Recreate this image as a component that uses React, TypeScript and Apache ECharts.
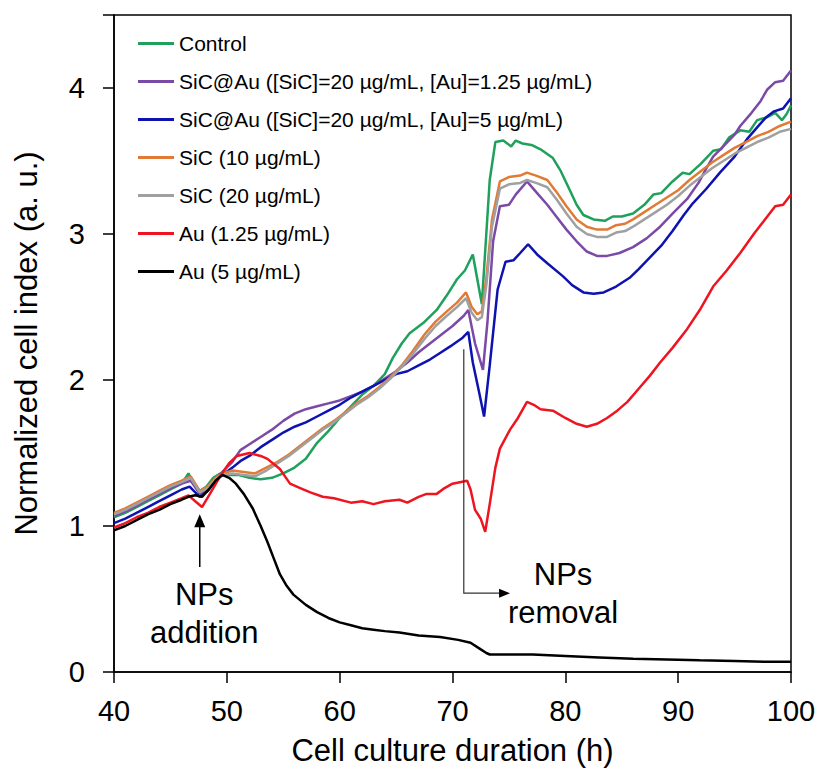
import React, { useEffect, useRef } from "react";
import * as echarts from "echarts";

const legendNames = [
  "Control",
  "SiC@Au ([SiC]=20 µg/mL, [Au]=1.25 µg/mL)",
  "SiC@Au ([SiC]=20 µg/mL, [Au]=5 µg/mL)",
  "SiC (10 µg/mL)",
  "SiC (20 µg/mL)",
  "Au (1.25 µg/mL)",
  "Au (5 µg/mL)",
];
const seriesColors = ["#1FA05C", "#7B4AA6", "#0D12B0", "#E07A35", "#A0A0A0", "#EE1520", "#000000"];

const xTicks = [40, 50, 60, 70, 80, 90, 100];
const yTicks = [0, 1, 2, 3, 4];

const control: number[][] = [
  [40, 1.06], [41, 1.09], [42, 1.13], [43, 1.17], [44, 1.21], [45, 1.25], [46, 1.29], [46.6, 1.36], [47.0, 1.3],
  [47.6, 1.24], [48.2, 1.27], [48.8, 1.33], [49.4, 1.36], [50, 1.35], [51, 1.35], [52, 1.33], [53, 1.32], [54, 1.33],
  [55, 1.36], [56, 1.4], [57, 1.46], [58, 1.57], [59, 1.65], [60, 1.74], [61, 1.82], [62, 1.9], [63, 1.96], [64, 2.04],
  [64.7, 2.15], [65.5, 2.25], [66.2, 2.32], [67.4, 2.39], [68.6, 2.48], [69.5, 2.58], [70.4, 2.69], [71.1, 2.75],
  [71.8, 2.86], [72.6, 2.52], [73.3, 3.37], [73.8, 3.63], [74.5, 3.64], [75.2, 3.6], [75.6, 3.64], [76.2, 3.62],
  [77, 3.61], [77.8, 3.58], [78.9, 3.52], [79.6, 3.43], [80.4, 3.3], [81, 3.2], [81.6, 3.13], [82.5, 3.1], [83.5, 3.09],
  [84.2, 3.12], [85, 3.12], [86, 3.14], [87, 3.2], [87.8, 3.27], [88.5, 3.28], [89.5, 3.36], [90.4, 3.42], [91, 3.41],
  [92, 3.48], [93.1, 3.57], [93.8, 3.58], [94.5, 3.66], [95.5, 3.71], [96.3, 3.7], [97, 3.78], [97.9, 3.8],
  [98.6, 3.83], [99.2, 3.78], [99.6, 3.82], [100, 3.88],
];

const sicAu125: number[][] = [
  [40, 1.07], [41, 1.1], [42, 1.14], [43, 1.18], [44, 1.22], [45, 1.26], [46, 1.29], [46.8, 1.31], [47.6, 1.22],
  [48.3, 1.25], [49, 1.32], [49.6, 1.37], [50.5, 1.44], [51.2, 1.52], [52, 1.56], [53, 1.61], [54, 1.66], [55, 1.72],
  [56, 1.77], [57, 1.8], [58, 1.82], [59, 1.84], [60, 1.86], [61, 1.89], [62, 1.92], [63, 1.96], [64, 2.01], [65, 2.06],
  [66, 2.12], [67, 2.19], [68, 2.25], [69, 2.31], [70, 2.37], [71, 2.44], [71.4, 2.48], [72, 2.25], [72.7, 2.07],
  [73.1, 2.4], [73.6, 2.95], [74.2, 3.19], [75, 3.2], [75.6, 3.27], [76.6, 3.36], [77.5, 3.28], [78.4, 3.2],
  [79.2, 3.12], [80.1, 3.03], [81, 2.95], [81.9, 2.88], [82.8, 2.85], [83.7, 2.85], [84.8, 2.87], [86, 2.91],
  [87.2, 2.97], [88.4, 3.05], [89.5, 3.14], [90.8, 3.24], [91.8, 3.35], [92.5, 3.45], [93.1, 3.53], [94, 3.6],
  [95, 3.68], [95.5, 3.74], [96.5, 3.83], [97.3, 3.91], [97.9, 3.99], [98.6, 4.04], [99.3, 4.05], [100, 4.12],
];

const sicAu5: number[][] = [
  [40, 1.02], [41, 1.05], [42, 1.09], [43, 1.13], [44, 1.17], [45, 1.21], [46, 1.25], [46.7, 1.27], [47.6, 1.2],
  [48.3, 1.24], [49, 1.31], [49.6, 1.35], [50.5, 1.4], [51.3, 1.45], [52, 1.48], [53, 1.54], [54, 1.59], [55, 1.64],
  [56, 1.68], [57, 1.71], [58, 1.75], [59, 1.79], [60, 1.83], [61, 1.88], [62, 1.92], [63, 1.96], [64, 2.0], [65, 2.04],
  [66, 2.06], [67, 2.1], [68, 2.14], [69, 2.19], [69.8, 2.23], [70.9, 2.29], [71.4, 2.33], [71.8, 2.12], [72.4, 1.9],
  [72.8, 1.75], [73.3, 2.1], [74.0, 2.62], [74.7, 2.81], [75.4, 2.82], [76, 2.87], [76.7, 2.93], [77.5, 2.86],
  [78.4, 2.8], [79.8, 2.71], [80.6, 2.65], [81.6, 2.6], [82.5, 2.59], [83.4, 2.6], [84.5, 2.64], [85.7, 2.7],
  [86.5, 2.76], [87.5, 2.84], [88.5, 2.92], [89.5, 3.02], [90.5, 3.13], [91.3, 3.21], [92.5, 3.31], [93.7, 3.42],
  [95, 3.53], [96.1, 3.65], [97, 3.73], [97.8, 3.8], [98.5, 3.84], [99.3, 3.86], [100, 3.93],
];

const sic10: number[][] = [
  [40, 1.09], [41, 1.12], [42, 1.16], [43, 1.2], [44, 1.24], [45, 1.28], [46, 1.31], [46.8, 1.34], [47.6, 1.24],
  [48.3, 1.27], [49, 1.33], [49.6, 1.36], [50.5, 1.38], [51.5, 1.37], [52.5, 1.36], [53.5, 1.4], [54.5, 1.44],
  [55.5, 1.49], [56.5, 1.55], [57.5, 1.61], [58.5, 1.67], [59.5, 1.72], [60.5, 1.78], [61.5, 1.84], [62.5, 1.89],
  [63.5, 1.95], [64.5, 2.02], [65.5, 2.1], [66.5, 2.2], [67.5, 2.31], [68.5, 2.4], [69.5, 2.47], [70.4, 2.53],
  [71.2, 2.6], [71.7, 2.5], [72.2, 2.45], [72.6, 2.47], [73, 2.7], [73.5, 3.1], [74.2, 3.36], [75, 3.39], [76, 3.4],
  [76.6, 3.42], [77.4, 3.4], [78.4, 3.37], [79.2, 3.29], [80.1, 3.19], [81, 3.1], [81.9, 3.05], [82.8, 3.03],
  [83.7, 3.03], [84.5, 3.06], [85.3, 3.07], [86, 3.1], [87, 3.15], [88, 3.2], [89, 3.25], [90, 3.3], [91, 3.37],
  [92, 3.43], [93, 3.49], [94, 3.54], [95, 3.59], [96, 3.63], [97, 3.67], [98, 3.7], [99, 3.74], [100, 3.77],
];

const sic20: number[][] = [
  [40, 1.08], [41, 1.11], [42, 1.15], [43, 1.19], [44, 1.23], [45, 1.27], [46, 1.3], [46.8, 1.33], [47.6, 1.23],
  [48.3, 1.26], [49, 1.32], [49.6, 1.35], [50.5, 1.36], [51.5, 1.35], [52.5, 1.34], [53.5, 1.38], [54.5, 1.43],
  [55.5, 1.48], [56.5, 1.54], [57.5, 1.6], [58.5, 1.66], [59.5, 1.71], [60.5, 1.77], [61.5, 1.83], [62.5, 1.88],
  [63.5, 1.94], [64.5, 2.01], [65.5, 2.09], [66.5, 2.18], [67.5, 2.28], [68.5, 2.37], [69.5, 2.44], [70.4, 2.5],
  [71.2, 2.56], [71.7, 2.46], [72.2, 2.41], [72.6, 2.43], [73, 2.65], [73.5, 3.05], [74.2, 3.31], [75, 3.34],
  [76, 3.35], [76.6, 3.37], [77.4, 3.35], [78.4, 3.32], [79.2, 3.24], [80.1, 3.14], [81, 3.05], [81.9, 3.0],
  [82.8, 2.98], [83.7, 2.98], [84.5, 3.01], [85.3, 3.02], [86, 3.05], [87, 3.1], [88, 3.15], [89, 3.2], [90, 3.26],
  [91, 3.33], [92, 3.39], [93, 3.45], [94, 3.5], [95, 3.55], [96, 3.59], [97, 3.63], [98, 3.66], [99, 3.7], [100, 3.72],
];

const au125: number[][] = [
  [40, 0.99], [41, 1.02], [42, 1.06], [43, 1.09], [44, 1.13], [45, 1.16], [46, 1.19], [46.6, 1.21], [47.2, 1.17],
  [47.8, 1.13], [48.5, 1.22], [49.4, 1.34], [50.2, 1.43], [50.9, 1.48], [52, 1.5], [53, 1.48], [53.6, 1.46],
  [54.7, 1.39], [55.6, 1.29], [56.5, 1.26], [57.4, 1.23], [58.5, 1.2], [59.5, 1.19], [61, 1.16], [62, 1.17],
  [63, 1.15], [64, 1.17], [65.3, 1.18], [66, 1.16], [67, 1.2], [67.7, 1.22], [68.6, 1.22], [69.3, 1.26], [70, 1.29],
  [71.3, 1.31], [71.6, 1.25], [72, 1.11], [72.5, 1.05], [72.9, 0.96], [73.3, 1.15], [73.8, 1.4], [74.2, 1.53],
  [75.1, 1.66], [75.8, 1.74], [76.6, 1.85], [77.2, 1.83], [77.8, 1.8], [78.9, 1.79], [80, 1.74], [81, 1.7],
  [81.9, 1.68], [82.8, 1.7], [83.7, 1.74], [84.6, 1.79], [85.5, 1.85], [86.5, 1.94], [87.5, 2.03], [88.4, 2.12],
  [89.5, 2.22], [90.8, 2.35], [92, 2.49], [93.1, 2.64], [94.3, 2.75], [95.5, 2.87], [96.7, 3.0], [97.9, 3.12],
  [98.6, 3.19], [99.3, 3.2], [100, 3.27],
];

const au5: number[][] = [
  [40, 0.97], [41, 1.0], [42, 1.04], [43, 1.08], [44, 1.11], [45, 1.15], [46, 1.18], [46.6, 1.2], [47.2, 1.21],
  [47.8, 1.2], [48.5, 1.26], [49.0, 1.31], [49.6, 1.35], [50.2, 1.33], [50.8, 1.29], [51.5, 1.22], [52.3, 1.12],
  [53, 1.0], [53.6, 0.89], [54.2, 0.77], [54.7, 0.67], [55.3, 0.59], [55.9, 0.53], [57, 0.46], [58, 0.41], [59, 0.37],
  [60, 0.34], [61, 0.32], [62, 0.3], [63, 0.29], [64, 0.28], [65.3, 0.27], [67, 0.25], [68.9, 0.24], [70.5, 0.22],
  [71.6, 0.2], [72.4, 0.16], [73.0, 0.13], [73.3, 0.12], [75, 0.12], [77.1, 0.12], [80, 0.11], [83, 0.1], [86, 0.09],
  [89, 0.085], [91.9, 0.08], [95, 0.075], [98, 0.07], [100, 0.07],
];

const seriesData = [control, sicAu125, sicAu5, sic10, sic20, au125, au5];

// annotation anchors in data coordinates
const additionArrow = { x: 47.6, from: 0.72, to: 1.08 };
const additionLabel = { x: 48.0, lines: ["NPs", "addition"], ys: [0.53, 0.27] };
const removalArrow = { x: 71.0, from: 2.21, to: 0.54, endX: 75.1 };
const removalLabel = { x: 79.8, lines: ["NPs", "removal"], ys: [0.67, 0.41] };

const FONT = "'Liberation Sans', Arial, Helvetica, sans-serif";

export default function App() {
  const ref = useRef<HTMLDivElement>(null);
  useEffect(() => {
    const chart = echarts.init(ref.current!, null, { renderer: "svg" });
    chart.setOption({
      animation: false,
      backgroundColor: "#ffffff",
      grid: {
        left: 114,
        right: 30,
        top: 15,
        bottom: 98,
        show: true,
        borderColor: "#000",
        borderWidth: 1.5,
        backgroundColor: "transparent",
      },
      legend: {
        data: legendNames,
        orient: "vertical",
        left: 138,
        top: 33,
        padding: 0,
        icon: "rect",
        itemWidth: 36,
        itemHeight: 3,
        itemGap: 17,
        textStyle: { fontSize: 21, color: "#000", fontFamily: FONT, lineHeight: 21 },
      },
      xAxis: {
        type: "value",
        min: 40,
        max: 100,
        interval: 10,
        name: "Cell culture duration (h)",
        nameLocation: "middle",
        nameGap: 63,
        nameTextStyle: { fontSize: 31, color: "#000", fontFamily: FONT },
        axisLine: { lineStyle: { color: "#000", width: 1.5 } },
        axisTick: { show: true, length: 11, inside: false, lineStyle: { color: "#000", width: 1.5 } },
        axisLabel: {
          fontSize: 29,
          color: "#000",
          fontFamily: FONT,
          margin: 24,
          formatter: (v: number) => (xTicks.includes(v) ? String(v) : ""),
        },
        splitLine: { show: false },
      },
      yAxis: {
        type: "value",
        min: 0,
        max: 4.5,
        interval: 1,
        name: "Normalized cell index (a. u.)",
        nameLocation: "middle",
        nameRotate: 90,
        nameGap: 72,
        nameTextStyle: { fontSize: 31, color: "#000", fontFamily: FONT },
        axisLine: { show: true, lineStyle: { color: "#000", width: 1.5 } },
        axisTick: { show: true, length: 11, inside: false, lineStyle: { color: "#000", width: 1.5 } },
        axisLabel: {
          fontSize: 29,
          color: "#000",
          fontFamily: FONT,
          margin: 29,
          formatter: (v: number) => (yTicks.includes(v) ? String(v) : ""),
        },
        splitLine: { show: false },
      },
      series: legendNames.map((name, i) => ({
        name,
        type: "line",
        data: seriesData[i],
        showSymbol: false,
        symbol: "none",
        smooth: false,
        color: seriesColors[i],
        lineStyle: { color: seriesColors[i], width: 2.5 },
        z: 2 + i,
      })),
    });

    const p = (x: number, y: number) => chart.convertToPixel({ gridIndex: 0 }, [x, y]) as number[];
    const a0 = p(additionArrow.x, additionArrow.from);
    const a1 = p(additionArrow.x, additionArrow.to);
    const r0 = p(removalArrow.x, removalArrow.from);
    const r1 = p(removalArrow.x, removalArrow.to);
    const r2 = p(removalArrow.endX, removalArrow.to);
    const texts: any[] = [];
    [additionLabel, removalLabel].forEach((lab) => {
      lab.lines.forEach((t, k) => {
        const q = p(lab.x, lab.ys[k]);
        texts.push({
          type: "text",
          x: q[0],
          y: q[1],
          style: { text: t, fontSize: 31, fontFamily: FONT, fill: "#000", align: "center", verticalAlign: "middle" },
          z: 20,
        });
      });
    });
    chart.setOption({
      graphic: [
        {
          type: "line",
          shape: { x1: a0[0], y1: a0[1], x2: a1[0], y2: a1[1] + 10 },
          style: { stroke: "#000", lineWidth: 1.5 },
          z: 20,
        },
        {
          type: "polygon",
          shape: { points: [[a1[0], a1[1]], [a1[0] - 5.5, a1[1] + 13], [a1[0] + 5.5, a1[1] + 13]] },
          style: { fill: "#000" },
          z: 20,
        },
        {
          type: "polyline",
          shape: { points: [[r0[0], r0[1]], [r1[0], r1[1]], [r2[0] - 10, r2[1]]] },
          style: { stroke: "#333", lineWidth: 1.2, fill: null },
          z: 20,
        },
        {
          type: "polygon",
          shape: { points: [[r2[0], r2[1]], [r2[0] - 11, r2[1] - 4.5], [r2[0] - 11, r2[1] + 4.5]] },
          style: { fill: "#000" },
          z: 20,
        },
        ...texts,
      ],
    });
    return () => chart.dispose();
  }, []);
  return <div ref={ref} style={{ position: "fixed", left: 0, top: 0, width: 821, height: 771 }} />;
}
